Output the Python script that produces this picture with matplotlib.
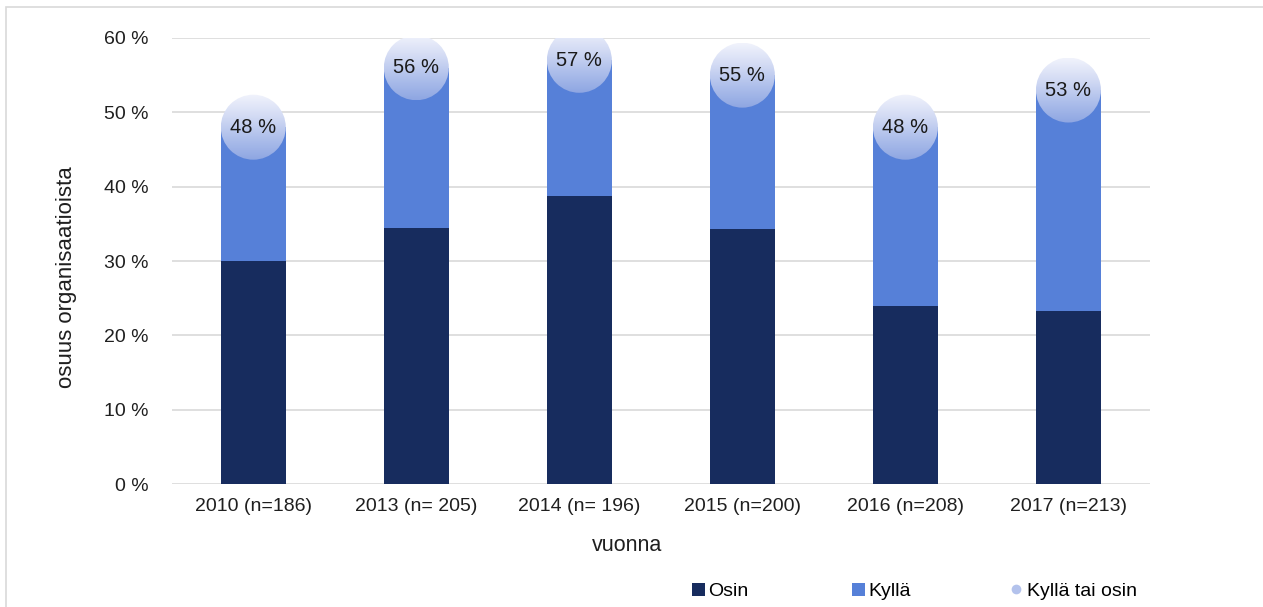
import numpy as np
import matplotlib
matplotlib.use("Agg")
import matplotlib.pyplot as plt
from matplotlib.patches import Circle, Rectangle, Patch
from matplotlib.lines import Line2D
from matplotlib.transforms import ScaledTranslation
from matplotlib.colors import LinearSegmentedColormap

categories = ["2010 (n=186)", "2013 (n= 205)", "2014 (n= 196)",
              "2015 (n=200)", "2016 (n=208)", "2017 (n=213)"]
osin = [0.30, 0.345, 0.388, 0.343, 0.239, 0.233]
total = [0.48, 0.56, 0.57, 0.55, 0.48, 0.53]
total_labels = ["48 %", "56 %", "57 %", "55 %", "48 %", "53 %"]
kylla = [t - o for t, o in zip(total, osin)]
legend_labels = ["Osin", "Kyllä", "Kyllä tai osin"]

c_osin = "#172c5e"
c_kylla = "#5680d8"
txt = '#1f1f1f'

plt.rcParams['font.family'] = ['Liberation Sans', 'DejaVu Sans']

fig = plt.figure(figsize=(12.63, 6.07), dpi=100)
ax = fig.add_axes([0.136, 0.2026, 0.7745, 0.7348])

x = np.arange(len(categories))
w = 0.4
ax.bar(x, osin, w, color=c_osin, zorder=2)
ax.bar(x, kylla, w, bottom=osin, color=c_kylla, zorder=2)

yt = np.arange(0, 0.61, 0.1)
ax.set_yticks(yt)
ax.set_yticklabels([f"{int(round(v*100))} %" for v in yt])
ax.set_xticks(x)
ax.set_xticklabels(categories)
ax.tick_params(axis='both', length=0, labelsize=14, colors=txt)
ax.tick_params(axis='y', pad=17)
ax.tick_params(axis='x', pad=10)
ax.grid(axis='y', color='#d9d9d9', linewidth=1.2, zorder=0)
for s in ax.spines.values():
    s.set_visible(False)
ax.set_xlabel("vuonna", fontsize=15.5, color=txt)
ax.xaxis.set_label_coords(0.4655, -0.114)
ax.set_ylabel("osuus organisaatioista", fontsize=16, color=txt)
ax.yaxis.set_label_coords(-0.097, 0.464)

# bubbles
cmap = LinearSegmentedColormap.from_list("bub", ["#f1f3fc", "#d3dbf4", "#aebfeb", "#8ea6e2"])
grad = np.linspace(0, 1, 256).reshape(-1, 1)
r = 0.325
for xi, ti, lab in zip(x, total, total_labels):
    tr = fig.dpi_scale_trans + ScaledTranslation(xi, ti, ax.transData)
    circ = Circle((0, 0), r, transform=tr, facecolor='none', edgecolor='none')
    ax.add_patch(circ)
    circ.set_clip_on(False)
    im = ax.imshow(grad, cmap=cmap, extent=[-r, r, -r, r], origin='upper',
                   transform=tr, zorder=3, aspect='auto', interpolation='bilinear')
    im.set_clip_path(circ)
    ax.text(xi, ti, lab, ha='center', va='center', fontsize=14.5, color='#1a1a1a', zorder=4)

ax.set_xlim(-0.5, len(categories) - 0.5)
ax.set_ylim(0, 0.6)

handles = [Patch(facecolor=c_osin, label=legend_labels[0]),
           Patch(facecolor=c_kylla, label=legend_labels[1]),
           Line2D([], [], marker='o', linestyle='none', markersize=7,
                  markerfacecolor='#b3c2ec', markeredgecolor='none', label=legend_labels[2])]
for h, xpos in zip(handles, [692, 852, 1010]):
    fig.legend(handles=[h], loc='center left', bbox_to_anchor=(xpos / 1263, 0.026),
               frameon=False, fontsize=14, handlelength=0.65, handleheight=0.65,
               handletextpad=0.2, borderpad=0, borderaxespad=0)

fig.patches.append(Rectangle((6/1263, -0.01), 1.1, 1 - 7/607 + 0.01, transform=fig.transFigure,
                             fill=False, edgecolor='#d9d9d9', linewidth=1.2))

fig.savefig("out.png", dpi=100)
